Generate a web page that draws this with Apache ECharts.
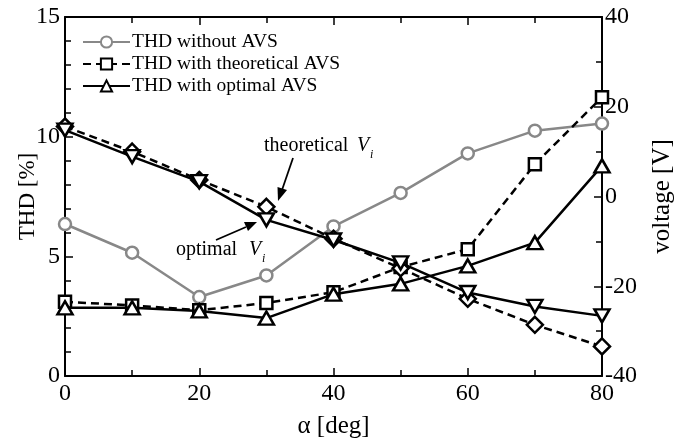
<!DOCTYPE html>
<html>
<head>
<meta charset="utf-8">
<script src="https://cdn.jsdelivr.net/npm/echarts@6/dist/echarts.min.js"></script>
<style>html,body{margin:0;padding:0;background:#fff}#c{width:686px;height:439px}</style>
</head>
<body>
<div id="c"></div>
<script>
var alpha = [0, 10, 20, 30, 40, 50, 60, 70, 80];
var thdWithout = [6.35, 5.15, 3.3, 4.2, 6.25, 7.65, 9.3, 10.25, 10.55];
var thdTheoretical = [3.1, 2.95, 2.75, 3.05, 3.5, 4.55, 5.3, 8.85, 11.65];
var thdOptimal = [2.85, 2.85, 2.72, 2.42, 3.42, 3.85, 4.6, 5.57, 8.78];
var vTheoretical = [15.6, 10.0, 3.7, -2.3, -9.4, -16.0, -22.8, -28.6, -33.4];
var vOptimal = [14.8, 8.9, 3.3, -5.2, -9.7, -14.8, -21.4, -24.5, -26.6];
var leftTicks = [0, 5, 10, 15];
var rightTicks = [-40, -20, 0, 20, 40];
var xTicks = [0, 20, 40, 60, 80];

function pairs(ys) { return alpha.map(function (a, i) { return [a, ys[i]]; }); }

var FONT = 'Liberation Serif';
var chart = echarts.init(document.getElementById('c'));
var axisCommon = {
  axisLine: { show: true, onZero: false, lineStyle: { color: '#000', width: 2 } },
  axisTick: { show: true, inside: true, length: 8, lineStyle: { color: '#000', width: 1.5 } },
  minorTick: { show: true, length: 6, lineStyle: { color: '#000', width: 1.5 } },
  splitLine: { show: false },
  axisLabel: { color: '#000', fontFamily: FONT, fontSize: 24 },
  nameTextStyle: { color: '#000', fontFamily: FONT, fontSize: 24 }
};
function merge(a, b) { return Object.assign({}, a, b); }

var option = {
  animation: false,
  backgroundColor: '#fff',
  grid: { left: 65, right: 84, top: 17, bottom: 63, containLabel: false, outerBoundsMode: 'none' },
  legend: {
    orient: 'vertical', left: 77, top: 27, itemGap: 2, itemWidth: 47, itemHeight: 14,
    data: ['THD without AVS', 'THD with theoretical AVS', 'THD with optimal AVS'],
    textStyle: { color: '#000', fontFamily: FONT, fontSize: 19.5, padding: [0, 0, 0, -3] }
  },
  xAxis: [
    merge(axisCommon, {
      type: 'value', min: 0, max: 80, interval: 20,
      minorTick: merge(axisCommon.minorTick, { splitNumber: 2 }),
      axisLabel: merge(axisCommon.axisLabel, { margin: 6, formatter: function (v) { return xTicks.indexOf(v) >= 0 ? v : ''; } }),
      name: 'α [deg]', nameLocation: 'middle', nameGap: 38,
      nameTextStyle: merge(axisCommon.nameTextStyle, { fontSize: 25 })
    }),
    merge(axisCommon, {
      type: 'value', min: 0, max: 80, interval: 20, position: 'top',
      minorTick: merge(axisCommon.minorTick, { splitNumber: 2 }),
      axisLabel: { show: false }
    })
  ],
  yAxis: [
    merge(axisCommon, {
      type: 'value', min: 0, max: 15, interval: 5,
      minorTick: merge(axisCommon.minorTick, { splitNumber: 5 }),
      axisLabel: merge(axisCommon.axisLabel, { margin: 5, formatter: function (v) { return leftTicks.indexOf(v) >= 0 ? v : ''; } }),
      name: 'THD [%]', nameLocation: 'middle', nameGap: 26, nameRotate: 90, nameMoveOverlap: false,
      nameTextStyle: merge(axisCommon.nameTextStyle, { fontSize: 23 })
    }),
    merge(axisCommon, {
      type: 'value', min: -40, max: 40, interval: 20, position: 'right',
      minorTick: merge(axisCommon.minorTick, { splitNumber: 2 }),
      axisLabel: merge(axisCommon.axisLabel, { margin: 3, formatter: function (v) { return rightTicks.indexOf(v) >= 0 ? v : ''; } }),
      name: 'voltage [V]', nameLocation: 'middle', nameGap: 48, nameRotate: 90,
      nameTextStyle: merge(axisCommon.nameTextStyle, { fontSize: 25 })
    })
  ],
  series: [
    {
      name: 'THD without AVS', type: 'line', yAxisIndex: 0, data: pairs(thdWithout),
      symbol: 'circle', symbolSize: 12, color: '#888',
      lineStyle: { color: '#888', width: 2.5 },
      itemStyle: { color: '#fff', borderColor: '#888', borderWidth: 2.5 }, z: 2
    },
    {
      name: 'THD with theoretical AVS', type: 'line', yAxisIndex: 0, data: pairs(thdTheoretical),
      symbol: 'rect', symbolSize: 12, color: '#000',
      lineStyle: { color: '#000', width: 2.5, type: [8, 5] },
      itemStyle: { color: '#fff', borderColor: '#000', borderWidth: 2.5 }, z: 3
    },
    {
      name: 'THD with optimal AVS', type: 'line', yAxisIndex: 0, data: pairs(thdOptimal),
      symbol: 'triangle', symbolSize: [15, 13], color: '#000',
      lineStyle: { color: '#000', width: 2.5 },
      itemStyle: { color: '#fff', borderColor: '#000', borderWidth: 2.5 }, z: 4
    },
    {
      name: 'theoretical Vi', type: 'line', yAxisIndex: 1, data: pairs(vTheoretical),
      symbol: 'diamond', symbolSize: [16, 16], color: '#000',
      lineStyle: { color: '#000', width: 2.5, type: [8, 5] },
      itemStyle: { color: '#fff', borderColor: '#000', borderWidth: 2.5 }, z: 3
    },
    {
      name: 'optimal Vi', type: 'line', yAxisIndex: 1, data: pairs(vOptimal),
      symbol: 'triangle', symbolRotate: 180, symbolSize: [15, 13], color: '#000',
      lineStyle: { color: '#000', width: 2.5 },
      itemStyle: { color: '#fff', borderColor: '#000', borderWidth: 2.5 }, z: 4
    }
  ],
  graphic: [
    { type: 'text', left: 264, top: 136, style: { text: 'theoretical', font: '20px "Liberation Serif"', fill: '#000' } },
    { type: 'text', left: 357, top: 136, style: { text: 'V', font: 'italic 20px "Liberation Serif"', fill: '#000' } },
    { type: 'text', left: 370, top: 149, style: { text: 'i', font: 'italic 12px "Liberation Serif"', fill: '#000' } },
    { type: 'text', left: 176, top: 240, style: { text: 'optimal', font: '20px "Liberation Serif"', fill: '#000' } },
    { type: 'text', left: 249, top: 240, style: { text: 'V', font: 'italic 20px "Liberation Serif"', fill: '#000' } },
    { type: 'text', left: 262, top: 253, style: { text: 'i', font: 'italic 12px "Liberation Serif"', fill: '#000' } },
    { type: 'line', shape: { x1: 293, y1: 158, x2: 282, y2: 190 }, style: { stroke: '#000', lineWidth: 1.8 } },
    { type: 'polygon', shape: { points: [[278, 201], [277.5, 187], [287, 190]] }, style: { fill: '#000' } },
    { type: 'line', shape: { x1: 216, y1: 240, x2: 246, y2: 227 }, style: { stroke: '#000', lineWidth: 1.8 } },
    { type: 'polygon', shape: { points: [[257, 222], [244, 222], [248, 231]] }, style: { fill: '#000' } }
  ]
};
chart.setOption(option);
</script>
</body>
</html>
